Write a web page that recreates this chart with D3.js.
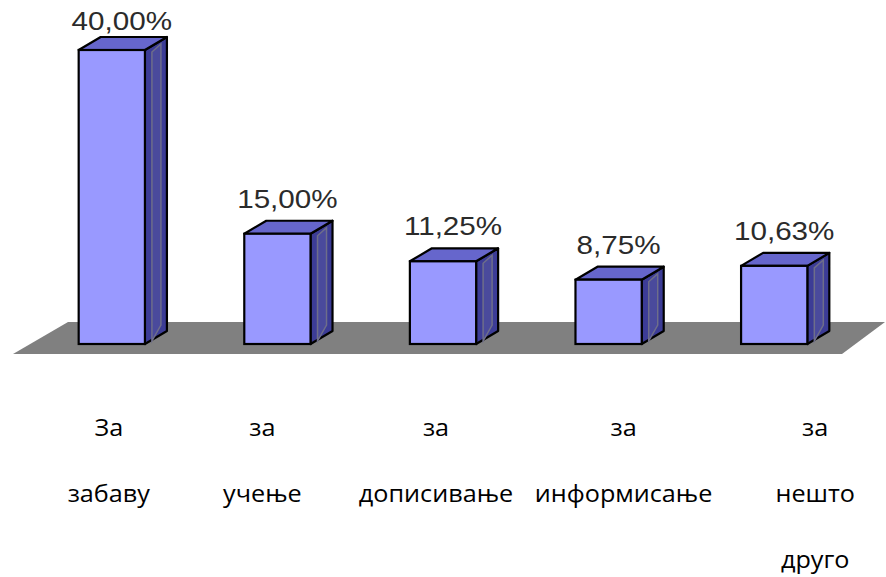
<!DOCTYPE html>
<html>
<head>
<meta charset="utf-8">
<script src="https://cdn.jsdelivr.net/npm/d3@7"></script>
<style>
  html, body { margin: 0; padding: 0; background: #fff; }
  svg { display: block; }
  .val { font-family: "Liberation Sans", Arial, sans-serif; font-size: 26px; fill: #2b2b2b; }
  .cat { font-family: "Open Sans", "Noto Sans", sans-serif; font-size: 24px; fill: #000; }
</style>
</head>
<body>
<svg id="chart"></svg>
<script>
// data
const categories = ['забаву', 'учење', 'дописивање', 'информисање', 'нешто друго'];
const catLines = [['За', 'забаву'], ['за', 'учење'], ['за', 'дописивање'], ['за', 'информисање'], ['за', 'нешто', 'друго']];
const values = [40.0, 15.0, 11.25, 8.75, 10.63];
const valueLabels = ['40,00%', '15,00%', '11,25%', '8,75%', '10,63%'];

const width = 886;
const height = 577;
const depthX = 22;
const depthY = 13;
// category text boxes are not centred under the bars in the original
const catShift = [-3, -15, -7, 15, 41];

const svg = d3.select('#chart').attr('width', width).attr('height', height);

const x = d3.scaleBand().domain(categories).range([29, 857]).paddingInner(0.6).paddingOuter(0.3);
const y = d3.scaleLinear().domain([0, 40]).range([344, 50]);
const y0 = y(0);

// grey floor
const [r0, r1] = x.range();
svg.append('polygon')
  .attr('points', [[r0 + 39, y0 - 22], [r1 + 28, y0 - 22], [r1 - 15, y0 + 10], [r0 - 16, y0 + 10]].join(' '))
  .attr('fill', '#808080');

const bars = svg.selectAll('g.bar').data(values).enter().append('g').attr('class', 'bar');

function pts(arr) { return arr.map((p) => p.join(',')).join(' '); }

bars.each(function (v, i) {
  const g = d3.select(this);
  const xl = x(categories[i]);
  const xr = xl + x.bandwidth();
  const yt = y(v);

  // side face
  g.append('polygon')
    .attr('points', pts([[xr, yt], [xr + depthX, yt - depthY], [xr + depthX, y0 - depthY], [xr, y0]]))
    .attr('fill', '#3c3c96').attr('stroke', '#000').attr('stroke-width', 2.2).attr('stroke-linejoin', 'round');
  g.append('polygon')
    .attr('points', pts([[xr + 7, yt + 2], [xr + depthX - 6, yt - depthY + 7], [xr + depthX - 6, y0 - depthY - 6], [xr + 7, y0 - 3]]))
    .attr('fill', '#4a4a9c').attr('stroke', '#6e6e8a').attr('stroke-width', 1.5);

  // top face
  g.append('polygon')
    .attr('points', pts([[xl, yt], [xl + depthX, yt - depthY], [xr + depthX, yt - depthY], [xr, yt]]))
    .attr('fill', '#6666cc').attr('stroke', '#000').attr('stroke-width', 2.2).attr('stroke-linejoin', 'round');

  // front face
  g.append('rect')
    .attr('x', xl).attr('y', yt)
    .attr('width', x.bandwidth()).attr('height', y0 - yt)
    .attr('fill', '#9999ff').attr('stroke', '#000').attr('stroke-width', 2.2);

  // value label
  const cx = xl + x.bandwidth() / 2 + 10;
  const by = Math.max(yt - depthY - 13, 30);
  g.append('text')
    .attr('class', 'val')
    .attr('text-anchor', 'middle')
    .attr('transform', `translate(${cx},${by}) scale(1.14,1)`)
    .text(valueLabels[i]);
});

// category labels under the floor
catLines.forEach((lines, i) => {
  const cx = x(categories[i]) + x.bandwidth() / 2 + catShift[i];
  lines.forEach((t, j) => {
    svg.append('text')
      .attr('class', 'cat')
      .attr('text-anchor', 'middle')
      .attr('transform', `translate(${cx},${436 + j * 66}) scale(1.05,1)`)
      .text(t);
  });
});
</script>
</body>
</html>
